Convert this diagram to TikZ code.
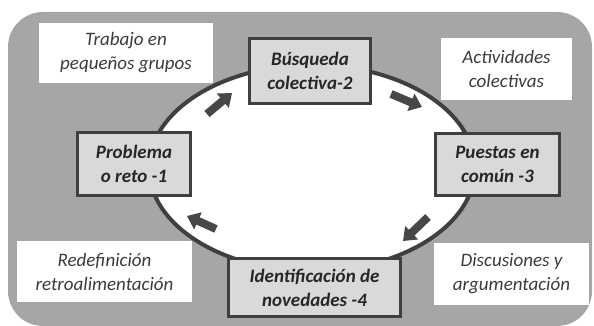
\documentclass[tikz,border=0pt]{standalone}
\usepackage{fontspec}
\setmainfont{Carlito}
\usetikzlibrary{arrows.meta}
\definecolor{bg}{HTML}{A6A6A6}
\definecolor{boxfill}{HTML}{D9D9D9}
\definecolor{edge}{HTML}{3F3F3F}
\definecolor{ink}{HTML}{262626}
\definecolor{arrowc}{HTML}{474747}
\tikzset{
  stage/.style={draw=edge, line width=3pt, fill=boxfill, align=center, inner sep=0pt,
    font=\fontsize{19}{24}\selectfont\bfseries\itshape, text=ink},
  note/.style={fill=white, align=center, inner sep=0pt,
    font=\fontsize{19}{24}\selectfont\itshape, text=ink!90},
  ring/.style={draw=edge, line width=4pt, fill=white},
  flow/.style={draw=arrowc, line width=8pt, -{Triangle[length=12pt,width=18pt]}}
}
\begin{document}
\begin{tikzpicture}[x=1pt,y=-1pt]
\useasboundingbox (0,0) rectangle (594,326);
\fill[bg, rounded corners=35pt] (8,12) rectangle (592,326);
\draw[ring] (312,168) ellipse [x radius=163, y radius=103];

\node[note, minimum width=174pt, minimum height=60pt] (n1) at (126,53) {Trabajo en\\pequeños grupos};
\node[note, minimum width=131pt, minimum height=62pt] (n2) at (506.5,69) {Actividades\\colectivas};
\node[note, minimum width=175pt, minimum height=61pt] (n4) at (104.5,271.5) {Redefinición\\retroalimentación};
\node[note, minimum width=155pt, minimum height=62pt] (n3) at (511.5,274) {Discusiones y\\argumentación};

\node[stage, minimum width=113pt, minimum height=63pt] (s1) at (134,164) {Problema\\o reto -1};
\node[stage, minimum width=121pt, minimum height=65pt] (s2) at (310,71) {Búsqueda\\colectiva-2};
\node[stage, minimum width=124pt, minimum height=62pt] (s3) at (497.5,164.5) {Puestas en\\común -3};
\node[stage, minimum width=172pt, minimum height=58pt] (s4) at (314.5,287.5) {Identificación de\\novedades -4};

\coordinate (a1t) at (207,114); \coordinate (a1h) at (232,93);
\coordinate (a2t) at (391,94);  \coordinate (a2h) at (422,107);
\coordinate (a3t) at (428,217); \coordinate (a3h) at (403,241);
\coordinate (a4t) at (216,229); \coordinate (a4h) at (187,216);
\draw[flow] (a1t) -- (a1h);
\draw[flow] (a2t) -- (a2h);
\draw[flow] (a3t) -- (a3h);
\draw[flow] (a4t) -- (a4h);
\end{tikzpicture}
\end{document}
